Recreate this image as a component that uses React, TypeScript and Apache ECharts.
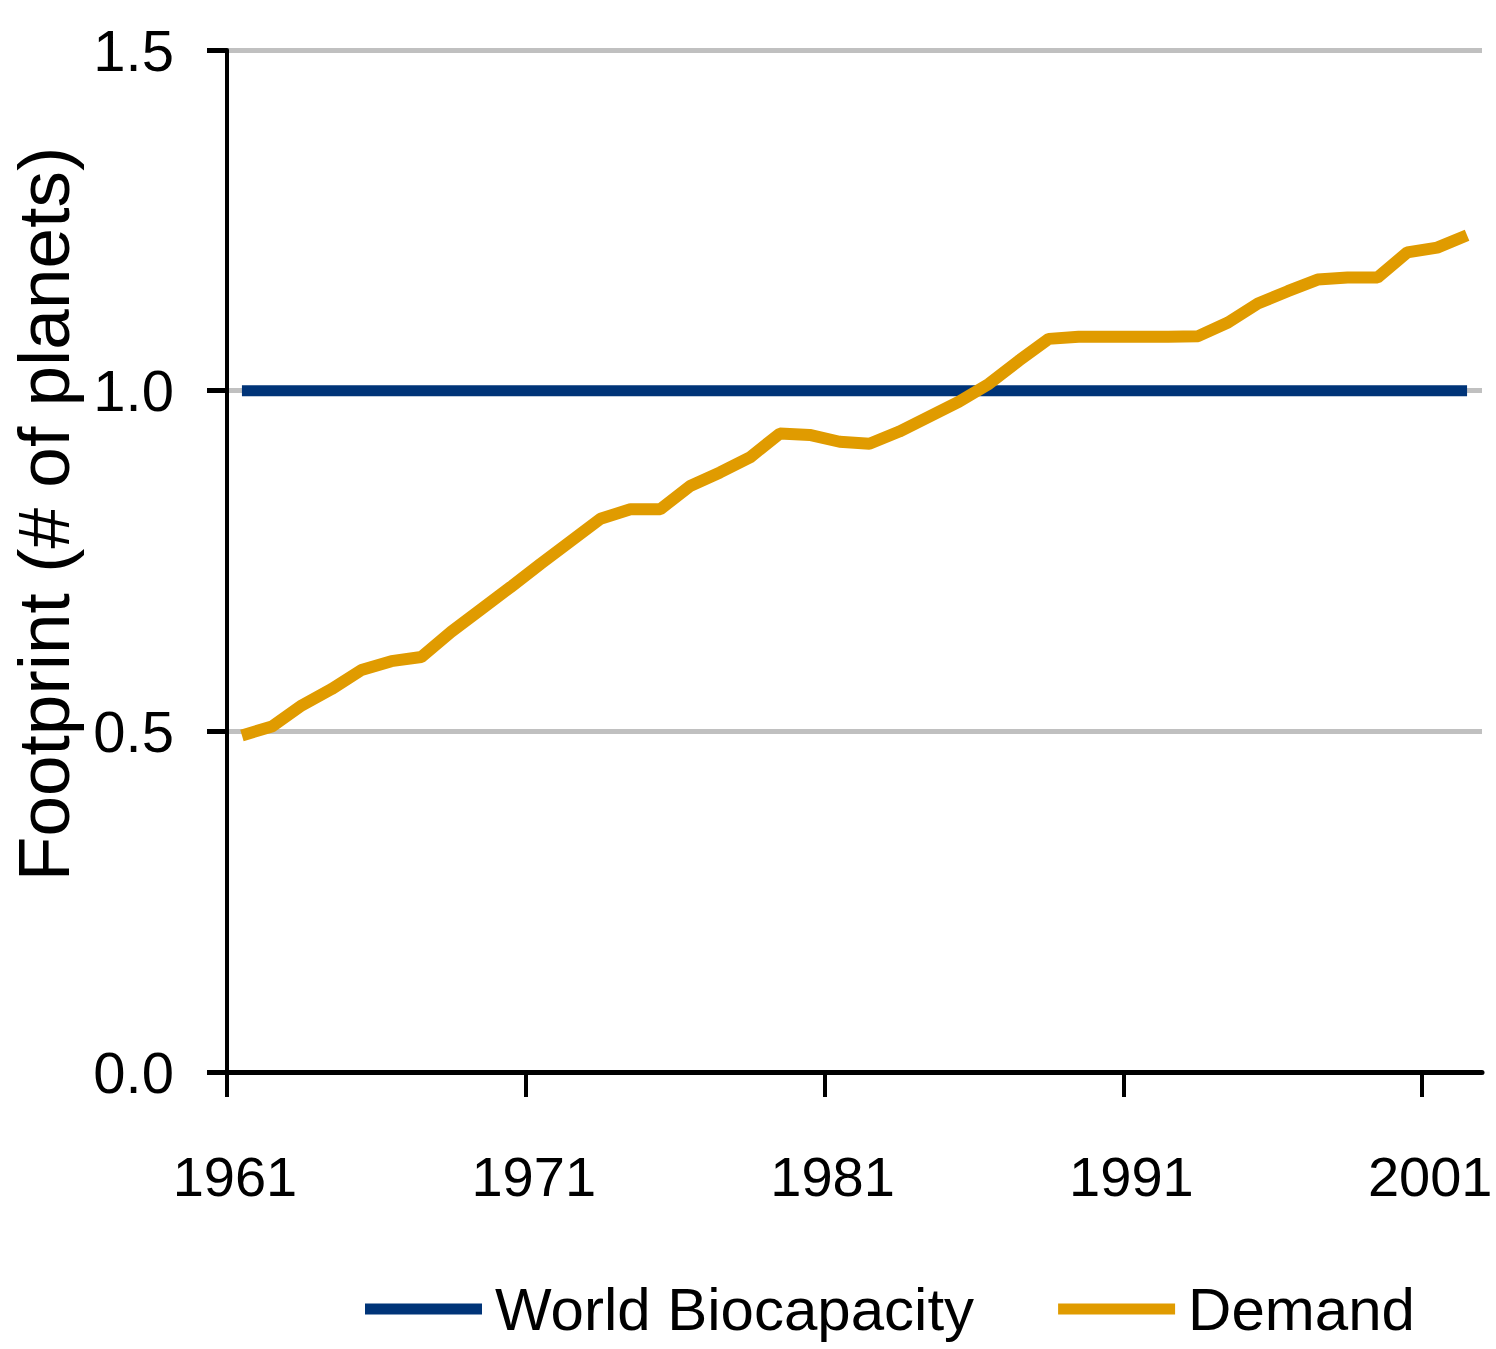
import React, { useEffect, useRef } from "react";
import * as echarts from "echarts";

const years: string[] = [
  "1961", "1962", "1963", "1964", "1965", "1966", "1967", "1968", "1969", "1970",
  "1971", "1972", "1973", "1974", "1975", "1976", "1977", "1978", "1979", "1980",
  "1981", "1982", "1983", "1984", "1985", "1986", "1987", "1988", "1989", "1990",
  "1991", "1992", "1993", "1994", "1995", "1996", "1997", "1998", "1999", "2000",
  "2001", "2002",
];

const worldBiocapacity: number[] = [
  1.0, 1.0, 1.0, 1.0, 1.0, 1.0, 1.0, 1.0, 1.0, 1.0,
  1.0, 1.0, 1.0, 1.0, 1.0, 1.0, 1.0, 1.0, 1.0, 1.0,
  1.0, 1.0, 1.0, 1.0, 1.0, 1.0, 1.0, 1.0, 1.0, 1.0,
  1.0, 1.0, 1.0, 1.0, 1.0, 1.0, 1.0, 1.0, 1.0, 1.0,
  1.0, 1.0,
];

const demand: number[] = [
  0.494, 0.507, 0.538, 0.562, 0.59, 0.603, 0.609, 0.646, 0.679, 0.712,
  0.746, 0.779, 0.812, 0.826, 0.826, 0.86, 0.88, 0.902, 0.937, 0.935,
  0.925, 0.922, 0.94, 0.962, 0.984, 1.01, 1.044, 1.076, 1.079, 1.079,
  1.079, 1.079, 1.08, 1.1, 1.128, 1.146, 1.163, 1.166, 1.166, 1.203,
  1.21, 1.228,
];

const yTicks = { min: 0, max: 1.5, interval: 0.5 };
const xTickEvery = 10; // a tick before every 10th year (1961, 1971, ... 2001)
const seriesNames = ["World Biocapacity", "Demand"];
const yTitle = "Footprint (# of planets)";

const FONT = "'Liberation Sans', Arial, sans-serif";

const W = 1496;
const H = 1349;
const GRID = { left: 227, right: 14, top: 50, bottom: 277 };

export default function App() {
  const ref = useRef<HTMLDivElement>(null);
  useEffect(() => {
    if (!ref.current) return;
    const chart = echarts.init(ref.current, undefined, { renderer: "svg" });
    const band = (W - GRID.left - GRID.right) / years.length;
    const lastTickIndex = Math.floor((years.length - 1) / xTickEvery) * xTickEvery;
    const tickGridWidth = band * lastTickIndex;
    chart.setOption({
      animation: false,
      backgroundColor: "#ffffff",
      grid: [
        { ...GRID, containLabel: false, outerBoundsMode: "none" },
        {
          left: GRID.left,
          width: tickGridWidth,
          top: GRID.top,
          bottom: GRID.bottom,
          containLabel: false,
          outerBoundsMode: "none",
        },
      ],
      legend: {
        data: seriesNames,
        left: 360,
        top: 1274,
        width: 1120,
        icon: "rect",
        itemWidth: 117,
        itemHeight: 11,
        itemGap: 84,
        textStyle: { fontFamily: FONT, fontSize: 60, color: "#000", padding: [0, 0, 14, 8] },
      },
      xAxis: [
        {
          type: "category",
          gridIndex: 0,
          data: years,
          boundaryGap: true,
          axisLine: { show: true, lineStyle: { color: "#000", width: 5 } },
          axisTick: { show: false },
          axisLabel: {
            interval: xTickEvery - 1,
            margin: 76,
            color: "#000",
            fontFamily: FONT,
            fontSize: 56,
            padding: [0, 14, 0, 0],
          },
          splitLine: { show: false },
        },
        {
          type: "value",
          gridIndex: 1,
          min: 0,
          max: lastTickIndex,
          interval: xTickEvery,
          axisLine: { show: false },
          axisTick: { show: true, length: 25, lineStyle: { color: "#000", width: 4 } },
          axisLabel: { show: false },
          splitLine: { show: false },
        },
      ],
      yAxis: [
        {
          type: "value",
          gridIndex: 0,
          min: yTicks.min,
          max: yTicks.max,
          interval: yTicks.interval,
          name: yTitle,
          nameLocation: "middle",
          nameRotate: 90,
          nameGap: 147,
          nameTextStyle: { fontFamily: FONT, fontSize: 73, color: "#000", padding: [0, 0, 0, 94] },
          axisLine: { show: true, lineStyle: { color: "#000", width: 4 } },
          axisTick: { show: true, length: 20, lineStyle: { color: "#000", width: 5 } },
          axisLabel: {
            margin: 53,
            color: "#000",
            fontFamily: FONT,
            fontSize: 58,
            padding: [0, 0, 12, 0],
            formatter: (v: number) => v.toFixed(1),
          },
          splitLine: { show: true, lineStyle: { color: "#c0c0c0", width: 5 } },
        },
        { type: "value", gridIndex: 1, min: 0, max: 1, show: false },
      ],
      series: [
        {
          name: seriesNames[0],
          type: "line",
          xAxisIndex: 0,
          yAxisIndex: 0,
          data: worldBiocapacity,
          symbol: "none",
          color: "#003478",
          lineStyle: { color: "#003478", width: 11 },
        },
        {
          name: seriesNames[1],
          type: "line",
          xAxisIndex: 0,
          yAxisIndex: 0,
          data: demand,
          symbol: "none",
          color: "#E09B00",
          lineStyle: { color: "#E09B00", width: 12 },
        },
      ],
    });
    return () => chart.dispose();
  }, []);
  return (
    <div
      ref={ref}
      style={{ position: "absolute", left: 0, top: 0, width: W, height: H, background: "#fff" }}
    />
  );
}
